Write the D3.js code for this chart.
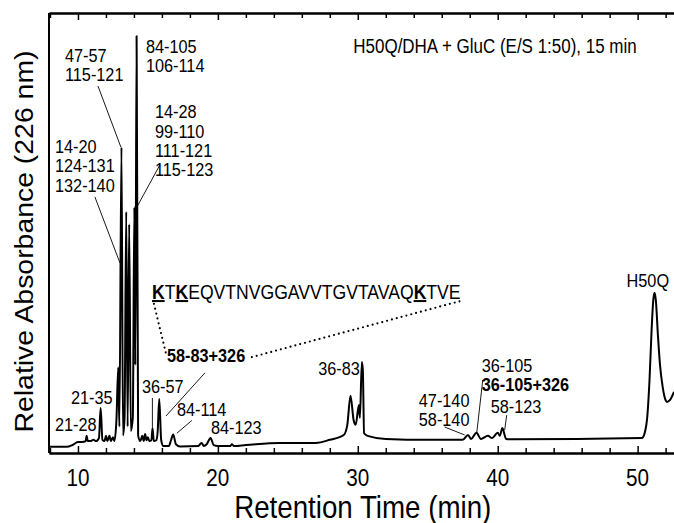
<!DOCTYPE html>
<html>
<head>
<meta charset="utf-8">
<script src="https://cdn.jsdelivr.net/npm/d3@7"></script>
<style>
  body { margin: 0; background: #fff; }
  text { font-family: "Liberation Sans", Arial, sans-serif; fill: #000; }
</style>
</head>
<body>
<script>
// Retention time (min) and absorbance (arbitrary units)
let times = [
  8.0, 9.2, 9.6, 10.0, 10.3, 10.55, 10.62, 10.7, 10.9, 11.1, 11.3, 11.5, 11.62, 11.75, 11.9,
  12.0, 12.1, 12.25, 12.35, 12.5, 12.6, 12.75, 12.88, 12.96, 13.11, 13.22, 13.33, 13.45, 13.55,
  13.66, 13.78, 13.92, 14.03, 14.1, 14.19, 14.3, 14.45, 14.6, 14.7, 14.8, 14.9, 15.0, 15.1,
  15.25, 15.33, 15.42, 15.6, 15.7, 15.81, 15.95, 16.1, 16.5, 16.65, 16.81, 17.0, 17.3, 18.6,
  18.83, 19.0, 19.2, 19.48, 19.7, 20.0, 20.9, 21.0, 21.15, 22.0, 24.4, 27.0, 28.0, 29.0, 29.25,
  29.48, 29.7, 29.85, 30.08, 30.15, 30.29, 30.36, 30.45, 30.7, 32.0, 35.0, 37.5, 37.88, 38.1,
  38.48, 38.8, 39.3, 39.6, 40.0, 40.15, 40.33, 40.6, 41.0, 50.3, 50.5, 50.7, 50.85, 51.0, 51.12,
  51.21, 51.3, 51.45, 51.6, 51.8, 52.0, 52.1, 52.3, 52.6
];
let absorb = [
  1.4, 1.4, 1.8, 2.5, 2.5, 2.7, 3.9, 2.7, 2.7, 3.0, 2.7, 3.4, 10.2, 3.0, 2.7,
  3.9, 2.7, 3.9, 2.7, 3.6, 2.7, 7.5, 19.5, 6.0, 69.5, 4.0, 8.0, 54.8, 6.0,
  52.0, 5.0, 8.0, 55.9, 20.0, 94.8, 4.0, 2.7, 3.9, 2.7, 4.3, 2.9, 3.6, 2.7,
  2.9, 5.7, 2.7, 2.9, 5.0, 12.3, 2.9, 1.6, 1.6, 2.9, 4.2, 2.0, 1.5, 1.6,
  2.3, 1.6, 2.0, 3.4, 1.8, 1.6, 1.6, 2.0, 1.6, 1.8, 2.3, 2.3, 3.0, 4.1, 6.4,
  13.0, 7.5, 6.4, 10.9, 8.0, 20.7, 18.9, 4.5, 3.9, 3.2, 3.0, 3.0, 4.1, 3.2,
  4.6, 3.2, 3.9, 3.4, 4.6, 3.9, 5.7, 3.2, 3.1, 3.4, 4.5, 8.6, 16.6, 28.0, 34.8,
  36.4, 34.8, 26.8, 20.0, 14.8, 12.0, 11.6, 12.0, 13.9
];

let majorTicks = [10, 20, 30, 40, 50];
let minorTicks = [8, 12, 14, 16, 18, 22, 24, 26, 28, 32, 34, 36, 38, 42, 44, 46, 48, 52];

let title = "H50Q/DHA + GluC (E/S 1:50), 15 min";
let xTitle = "Retention Time (min)";
let yTitle = "Relative Absorbance (226 nm)";

// Peak assignments: lines of text, anchor in (time, absorbance)
let peakLabels = [
  { lines: ["47-57", "115-121"], t: 9.07, v: 88.9 },
  { lines: ["84-105", "106-114"], t: 14.86, v: 90.9 },
  { lines: ["14-28", "99-110", "111-121", "115-123"], t: 15.5, v: 76.1 },
  { lines: ["14-20", "124-131", "132-140"], t: 8.36, v: 68.2 },
  { lines: ["21-35"], t: 9.5, v: 11.1 },
  { lines: ["21-28"], t: 8.36, v: 5.0 },
  { lines: ["36-57"], t: 14.57, v: 13.6 },
  { lines: ["58-83+326"], bold: [true], t: 16.36, v: 20.7 },
  { lines: ["84-114"], t: 17.07, v: 8.4 },
  { lines: ["84-123"], t: 19.5, v: 4.4 },
  { lines: ["36-83"], t: 30.14, v: 17.7, anchor: "end" },
  { lines: ["47-140", "58-140"], t: 34.36, v: 10.5 },
  { lines: ["36-105", "36-105+326"], bold: [false, true], t: 38.86, v: 18.4 },
  { lines: ["58-123"], t: 39.5, v: 9.1 },
  { lines: ["H50Q"], t: 49.21, v: 37.7 }
];

// leader lines from label to peak: [t1, v1, t2, v2]
let leaders = [
  [11.43, 83.4, 13.07, 69.5],
  [11.21, 58.2, 13.0, 43.2],
  [15.86, 65.5, 14.21, 55.9],
  [15.32, 12.5, 15.32, 5.9],
  [19.07, 18.2, 16.29, 8.4],
  [18.14, 7.4, 17.07, 4.5],
  [36.21, 5.9, 37.64, 4.1],
  [38.93, 16.6, 38.5, 4.5],
  [40.64, 8.6, 40.5, 5.2]
];

// sequence of the 58-83 peptide, modified lysines bold + underlined
let sequence = [
  { s: "K", mod: true }, { s: "T" }, { s: "K", mod: true },
  { s: "EQVTNVGGAVVTGVTAVAQ" }, { s: "K", mod: true }, { s: "TVE" }
];
let seqAnchor = { t: 15.29, v: 35.0 };
let dotted = [
  [15.43, 33.9, 16.29, 22.6],
  [22.43, 21.8, 37.29, 34.5]
];

let width = 674, height = 523;
let margin = { top: 13, right: 0, bottom: 70, left: 49 };
let squeeze = 0.88; // the figure is slightly narrowed horizontally

let x = d3.scaleLinear().domain([7.93, 52.6]).range([margin.left, width - margin.right]);
let y = d3.scaleLinear().domain([0, 100]).range([height - margin.bottom, margin.top]);

let svg = d3.select("body")
    .append("svg")
    .attr("width", width)
    .attr("height", height);

function label(g, px, py, size) {
    return g.append("text")
        .attr("transform", `translate(${px},${py}) scale(${squeeze},1)`)
        .style("font-size", `${size}px`);
}

// axes: ticks point inward, top axis mirrors the bottom one
let yBottom = y(0), yTop = margin.top;

svg.append("g")
    .attr("transform", `translate(0,${yBottom})`)
    .call(d3.axisBottom(x).tickValues(minorTicks).tickSizeInner(-5).tickSizeOuter(0).tickFormat(""));
svg.append("g")
    .attr("transform", `translate(0,${yBottom})`)
    .call(d3.axisBottom(x).tickValues(majorTicks).tickSizeInner(-7).tickSizeOuter(0).tickFormat(""));
svg.append("g")
    .attr("transform", `translate(0,${yTop})`)
    .call(d3.axisTop(x).tickValues(minorTicks).tickSizeInner(-5).tickSizeOuter(0).tickFormat(""));
svg.append("g")
    .attr("transform", `translate(0,${yTop})`)
    .call(d3.axisTop(x).tickValues(majorTicks).tickSizeInner(-7).tickSizeOuter(0).tickFormat(""));

svg.selectAll(".domain").attr("stroke-width", 2);
svg.selectAll(".tick line").attr("stroke-width", 1.5);

svg.append("line")
    .attr("x1", x(7.93)).attr("x2", x(7.93))
    .attr("y1", yTop).attr("y2", yBottom)
    .attr("stroke", "#000")
    .attr("stroke-width", 2);

majorTicks.forEach(d => {
    label(svg, x(d), yBottom + 33, 23.5)
        .attr("text-anchor", "middle")
        .text(d);
});

label(svg, x(30.35), height - 5, 31.5)
    .attr("text-anchor", "middle")
    .text(xTitle);

svg.append("text")
    .attr("transform", `translate(33,${(50 + 433) / 2}) rotate(-90) scale(1,${squeeze})`)
    .attr("text-anchor", "middle")
    .style("font-size", "28.4px")
    .text(yTitle);

label(svg, x(49.93), y(90.9), 19.3)
    .attr("text-anchor", "end")
    .text(title);

// chromatogram trace
let line = d3.line()
    .x(i => x(times[i]))
    .y(i => y(absorb[i]))
    .curve(d3.curveMonotoneX);

svg.append("path")
    .datum(d3.range(times.length))
    .attr("fill", "none")
    .attr("stroke", "#000")
    .attr("stroke-width", 2)
    .attr("stroke-linejoin", "round")
    .attr("d", line);

// leaders
svg.append("g")
    .selectAll("line")
    .data(leaders)
    .enter()
    .append("line")
    .attr("x1", d => x(d[0])).attr("y1", d => y(d[1]))
    .attr("x2", d => x(d[2])).attr("y2", d => y(d[3]))
    .attr("stroke", "#000")
    .attr("stroke-width", 0.9);

svg.append("g")
    .selectAll("line")
    .data(dotted)
    .enter()
    .append("line")
    .attr("x1", d => x(d[0])).attr("y1", d => y(d[1]))
    .attr("x2", d => x(d[2])).attr("y2", d => y(d[3]))
    .attr("stroke", "#000")
    .attr("stroke-width", 2.2)
    .attr("stroke-linecap", "round")
    .attr("stroke-dasharray", "0,5");

// peak labels
peakLabels.forEach(p => {
    let t = label(svg, x(p.t), y(p.v), 18.5)
        .attr("text-anchor", p.anchor || "start");
    p.lines.forEach((s, i) => {
        t.append("tspan")
            .attr("x", 0)
            .attr("dy", i ? "1.05em" : 0)
            .style("font-weight", p.bold && p.bold[i] ? "bold" : null)
            .text(s);
    });
});

let seq = label(svg, x(seqAnchor.t), y(seqAnchor.v), 20);
sequence.forEach(d => {
    seq.append("tspan")
        .style("font-weight", d.mod ? "bold" : null)
        .style("text-decoration", d.mod ? "underline" : null)
        .text(d.s);
});
</script>
</body>
</html>
